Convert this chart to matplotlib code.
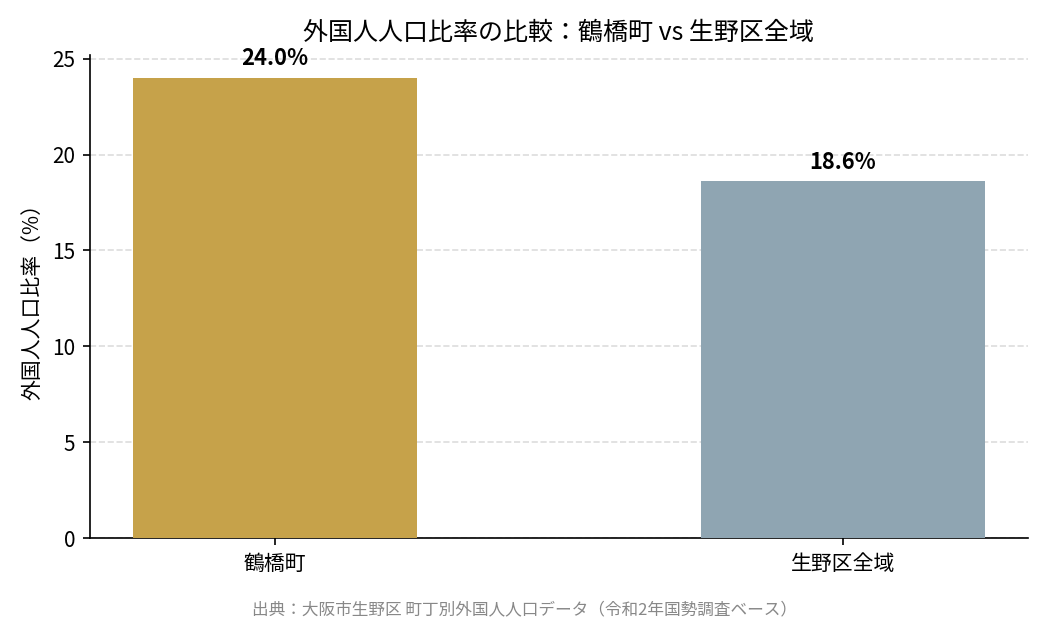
import matplotlib
matplotlib.use("Agg")
import matplotlib.pyplot as plt

plt.rcParams['font.family'] = ['Noto Sans CJK JP', 'DejaVu Sans']

categories = ["鶴橋町", "生野区全域"]
values = [24.0, 18.6]
colors = ["#C6A24A", "#8FA5B2"]
title = "外国人人口比率の比較：鶴橋町 vs 生野区全域"
ylabel = "外国人人口比率（%）"
source = "出典：大阪市生野区 町丁別外国人人口データ（令和2年国勢調査ベース）"

fig = plt.figure(figsize=(7, 4.2), dpi=150)
ax = fig.add_axes([0.0857, 0.146, 0.893, 0.767])
x = list(range(len(categories)))
bars = ax.bar(x, values, width=0.5, color=colors, zorder=3)
for xi, v in zip(x, values):
    ax.text(xi, v + 0.4, f"{v:.1f}%", ha='center', va='bottom', fontsize=10.5, fontweight='bold')
ax.set_xticks(x)
ax.set_xticklabels(categories, fontsize=10)
ax.set_ylim(0, max(values) * 1.05)
ax.set_yticks([0, 5, 10, 15, 20, 25])
ax.tick_params(axis='y', labelsize=10)
ax.set_ylabel(ylabel, fontsize=10)
ax.set_title(title, fontsize=12, pad=7)
ax.yaxis.grid(True, linestyle='--', color='#dddddd', linewidth=0.8, zorder=0)
ax.set_axisbelow(True)
for s in ['top', 'right']:
    ax.spines[s].set_visible(False)
fig.text(0.5, 0.018, source, ha='center', va='bottom', fontsize=8, color='#888888')
fig.savefig("out.png", dpi=150)
